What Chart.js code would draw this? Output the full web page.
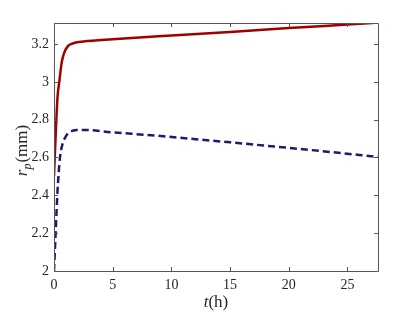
<!DOCTYPE html>
<html>
<head>
<meta charset="utf-8">
<script src="https://cdn.jsdelivr.net/npm/chart.js@4.4.0/dist/chart.umd.min.js"></script>
<style>
  html, body { margin: 0; padding: 0; background: #fff; }
  #wrap { width: 417px; height: 313px; position: relative; }
</style>
</head>
<body>
<div id="wrap"><canvas id="rp-chart" width="417" height="313"></canvas></div>
<script>
// red solid curve
const tRed = [0, 0.06, 0.2, 0.3, 0.45, 0.65, 0.85, 1.2, 1.7, 2.5, 5, 10, 15, 20, 25, 27.6];
const rRed = [2.5, 2.6, 2.8, 2.92, 3.0, 3.1, 3.15, 3.19, 3.205, 3.213, 3.225, 3.245, 3.264, 3.284, 3.303, 3.313];

// blue dashed curve
const tBlue = [0, 0.14, 0.28, 0.4, 0.51, 0.74, 1.0, 1.2, 1.9, 2.5, 5, 8.6, 15, 21.8, 27.6];
const rBlue = [2.0, 2.2, 2.4, 2.52, 2.6, 2.675, 2.71, 2.728, 2.745, 2.746, 2.733, 2.716, 2.68, 2.64, 2.603];

const xTicks = [0, 5, 10, 15, 20, 25];
const yTicks = [2, 2.2, 2.4, 2.6, 2.8, 3, 3.2];

const serif = "'Liberation Serif', 'DejaVu Serif', serif";

function pts(xs, ys) {
  return xs.map((x, i) => ({ x: x, y: ys[i] }));
}

// box, inward ticks and the axis titles (MATLAB style)
const framePlugin = {
  id: "frame",
  afterDraw(chart) {
    const ctx = chart.ctx;
    const a = chart.chartArea;
    const xs = chart.scales.x, ys = chart.scales.y;
    ctx.save();
    ctx.strokeStyle = "#555";
    ctx.lineWidth = 1;
    ctx.beginPath();
    ctx.rect(Math.round(a.left) + 0.5, Math.round(a.top) + 0.5,
             Math.round(a.right - a.left), Math.round(a.bottom - a.top));
    ctx.stroke();
    ctx.beginPath();
    for (const v of xTicks) {
      const px = Math.round(xs.getPixelForValue(v)) + 0.5;
      ctx.moveTo(px, a.bottom); ctx.lineTo(px, a.bottom - 4);
      ctx.moveTo(px, a.top); ctx.lineTo(px, a.top + 4);
    }
    for (const v of yTicks) {
      const py = Math.round(ys.getPixelForValue(v)) + 0.5;
      ctx.moveTo(a.left, py); ctx.lineTo(a.left + 4, py);
      ctx.moveTo(a.right, py); ctx.lineTo(a.right - 4, py);
    }
    ctx.stroke();

    ctx.fillStyle = "#262626";
    // x title: t(h)
    ctx.textBaseline = "alphabetic";
    ctx.textAlign = "left";
    const cx = (a.left + a.right) / 2;
    ctx.font = "italic 17px " + serif;
    const wT = ctx.measureText("t").width;
    ctx.font = "17px " + serif;
    const wH = ctx.measureText("(h)").width;
    const x0 = cx - (wT + wH) / 2;
    ctx.font = "italic 17px " + serif;
    ctx.fillText("t", x0, 307);
    ctx.font = "17px " + serif;
    ctx.fillText("(h)", x0 + wT, 307);

    // y title: r_p(mm)
    ctx.translate(27, (a.top + a.bottom) / 2 + 4);
    ctx.rotate(-Math.PI / 2);
    ctx.font = "italic 17px " + serif;
    const wr = ctx.measureText("r").width;
    ctx.font = "italic 12px " + serif;
    const wp = ctx.measureText("p").width;
    ctx.font = "17px " + serif;
    const wmm = ctx.measureText("(mm)").width;
    const y0 = -(wr + wp + wmm) / 2;
    ctx.font = "italic 17px " + serif;
    ctx.fillText("r", y0, 0);
    ctx.font = "italic 12px " + serif;
    ctx.fillText("p", y0 + wr, 4);
    ctx.font = "17px " + serif;
    ctx.fillText("(mm)", y0 + wr + wp + 1, 0);
    ctx.restore();
  },
};

document.addEventListener("DOMContentLoaded", () => {
  const view = document.getElementById("rp-chart");
  new Chart(view, {
    type: "line",
    data: {
      datasets: [
        {
          label: "solid",
          data: pts(tRed, rRed),
          borderColor: "#a00000",
          borderWidth: 2.5,
          pointRadius: 0,
          cubicInterpolationMode: "monotone",
        },
        {
          label: "dashed",
          data: pts(tBlue, rBlue),
          borderColor: "#1c1c6e",
          borderWidth: 2.5,
          borderDash: [7, 4],
          pointRadius: 0,
          cubicInterpolationMode: "monotone",
        },
      ],
    },
    options: {
      responsive: false,
      animation: false,
      events: [],
      layout: { padding: { left: 0, right: 39, top: 23, bottom: 0 } },
      plugins: { legend: { display: false }, tooltip: { enabled: false } },
      scales: {
        x: {
          type: "linear",
          min: 0,
          max: 27.6,
          grid: { display: false, drawTicks: false },
          border: { display: false },
          afterBuildTicks: (s) => { s.ticks = xTicks.map((v) => ({ value: v })); },
          afterFit: (s) => { s.height = 42; },
          ticks: {
            padding: 6,
            color: "#262626",
            font: { family: serif, size: 14 },
            callback: (v) => String(v),
          },
        },
        y: {
          min: 2,
          max: 3.311,
          grid: { display: false, drawTicks: false },
          border: { display: false },
          afterBuildTicks: (s) => { s.ticks = yTicks.map((v) => ({ value: v })); },
          afterFit: (s) => { s.width = 54; },
          ticks: {
            padding: 5,
            color: "#262626",
            font: { family: serif, size: 14 },
            callback: (v) => String(+v.toFixed(1)),
          },
        },
      },
    },
    plugins: [framePlugin],
  });
});
</script>
</body>
</html>
